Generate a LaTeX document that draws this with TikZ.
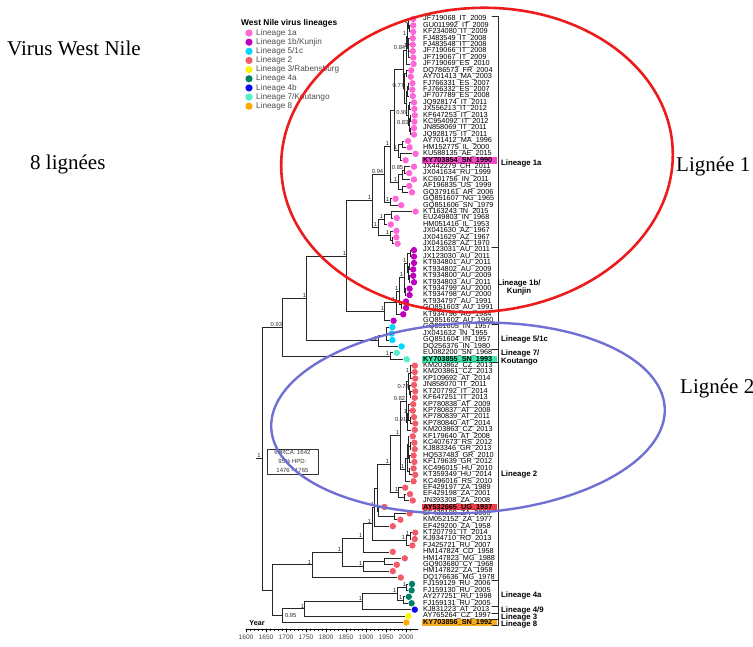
\documentclass[tikz,border=0pt]{standalone}
\usepackage{fontspec}
\setmainfont{Liberation Sans}
\newfontfamily\serifrm{Liberation Serif}
\usetikzlibrary{calc}
\pgfdeclarelayer{bg}
\pgfsetlayers{bg,main}

\definecolor{linA}{RGB}{255,102,214}
\definecolor{linB}{RGB}{190,0,190}
\definecolor{linC}{RGB}{0,214,255}
\definecolor{linII}{RGB}{242,92,106}
\definecolor{linIII}{RGB}{250,245,0}
\definecolor{linIVa}{RGB}{0,128,104}
\definecolor{linIVb}{RGB}{10,10,240}
\definecolor{linVII}{RGB}{80,240,200}
\definecolor{linVIII}{RGB}{255,168,0}
\definecolor{hlA}{RGB}{245,70,200}
\definecolor{hlVII}{RGB}{60,232,170}
\definecolor{hlII}{RGB}{240,60,72}
\definecolor{hlVIII}{RGB}{245,172,30}
\definecolor{ringred}{RGB}{236,28,28}
\definecolor{ringblue}{RGB}{112,112,212}

\tikzset{
  branch/.style={line width=0.7pt,black!85},
  leaflab/.style={anchor=west,inner sep=0pt,font=\fontsize{7.3}{7.3}\selectfont},
  leafbold/.style={leaflab,font=\bfseries\fontsize{7.3}{7.3}\selectfont},
  sup/.style={inner sep=0.6pt,font=\fontsize{5.8}{6}\selectfont,black!85},
  linlab/.style={anchor=west,inner sep=0pt,font=\bfseries\fontsize{7.8}{8.8}\selectfont},
  brkline/.style={line width=0.6pt,black!85},
  bigtxt/.style={anchor=base west,inner sep=0pt,font=\serifrm\fontsize{21}{24}\selectfont},
  legtxt/.style={anchor=west,inner sep=0pt,black!70,font=\fontsize{8.2}{8.2}\selectfont},
  yrlab/.style={inner sep=0pt,black!75,font=\fontsize{6.6}{6.6}\selectfont}
}

% x position of a year, y position of a leaf row
\newcommand\yrx[1]{406+0.4*(#1-2000)}
\newcommand\rowy[1]{19+6.42*(#1-1)}

% row, accession, country, year, colour
\newcommand\leaf[5]{%
  \coordinate (t#1) at ({\yrx{#4}},{\rowy{#1}});
  \fill[#5] ($(t#1)+(3.6,0)$) circle[radius=3.2pt];
  \node[leaflab] (lab#1) at (423,{\rowy{#1}}) {#2\_#3\_#4};
}
% same, highlighted
\newcommand\leafhl[6]{%
  \coordinate (t#1) at ({\yrx{#4}},{\rowy{#1}});
  \fill[#5] ($(t#1)+(3.6,0)$) circle[radius=3.2pt];
  \fill[#6] (421.5,{\rowy{#1}-3.4}) rectangle (497,{\rowy{#1}+3.4});
  \node[leafbold] (lab#1) at (423,{\rowy{#1}}) {#2\_#3\_#4};
}
% name, year, first child, second child
\newcommand\clade[4]{%
  \path let \p1=($(#3)!.5!(#4)$) in coordinate (#1) at ({(\yrx{#2})*1pt},\y1);
  \begin{pgfonlayer}{bg}
    \draw[branch] (#1) |- (#3) (#1) |- (#4);
  \end{pgfonlayer}
}
\newcommand\supp[2]{\node[sup,anchor=south east] (s-#1) at (#1) {#2};}
\newcommand\brk[2]{\draw[brkline] (492,{\rowy{#1}-3.2}) -- (498,{\rowy{#1}-3.2}) -- (498,{\rowy{#2}+3.2}) -- (492,{\rowy{#2}+3.2});}

\begin{document}
\begin{tikzpicture}[x=1pt,y=-1pt,line cap=round,line join=round]
\useasboundingbox (0,0) rectangle (753,646);

% titles
\node[bigtxt] (virus) at (7,55) {Virus West Nile};
\node[bigtxt] (nblin) at (30,169) {8 lignées};
\node[bigtxt] (lig1) at (676,171) {Lignée 1};
\node[bigtxt] (lig2) at (680,393) {Lignée 2};

% legend
\node[anchor=west,inner sep=0pt,font=\bfseries\fontsize{8.4}{8.4}\selectfont] (legtitle) at (241,23) {West Nile virus lineages};
\foreach \c/\t [count=\i] in {linA/{Lineage 1a},linB/{Lineage 1b/Kunjin},linC/{Lineage 5/1c},linII/{Lineage 2},linIII/{Lineage 3/Rabensburg},linIVa/{Lineage 4a},linIVb/{Lineage 4b},linVII/{Lineage 7/Koutango},linVIII/{Lineage 8}} {
  \fill[\c] (249,{33+9.15*(\i-1)}) circle[radius=3.6pt];
  \node[legtxt] (leg\i) at (256,{33+9.15*(\i-1)}) {\t};
}

% leaves
\leaf{1}{JF719068}{IT}{2009}{linA}
\leaf{2}{GU011992}{IT}{2009}{linA}
\leaf{3}{KF234080}{IT}{2009}{linA}
\leaf{4}{FJ483549}{IT}{2008}{linA}
\leaf{5}{FJ483548}{IT}{2008}{linA}
\leaf{6}{JF719066}{IT}{2008}{linA}
\leaf{7}{JF719067}{IT}{2009}{linA}
\leaf{8}{JF719069}{ES}{2010}{linA}
\leaf{9}{DQ786573}{FR}{2004}{linA}
\leaf{10}{AY701413}{MA}{2003}{linA}
\leaf{11}{FJ766331}{ES}{2007}{linA}
\leaf{12}{FJ766332}{ES}{2007}{linA}
\leaf{13}{JF707789}{ES}{2008}{linA}
\leaf{14}{JQ928174}{IT}{2011}{linA}
\leaf{15}{JX556213}{IT}{2012}{linA}
\leaf{16}{KF647253}{IT}{2013}{linA}
\leaf{17}{KC954092}{IT}{2012}{linA}
\leaf{18}{JN858069}{IT}{2011}{linA}
\leaf{19}{JQ928175}{IT}{2011}{linA}
\leaf{20}{AY701412}{MA}{1996}{linA}
\leaf{21}{HM152775}{IL}{2000}{linA}
\leaf{22}{KU588135}{AE}{2015}{linA}
\leafhl{23}{KY703854}{SN}{1990}{linA}{hlA}
\leaf{24}{JX442279}{CH}{2011}{linA}
\leaf{25}{JX041634}{RU}{1999}{linA}
\leaf{26}{KC601756}{IN}{2011}{linA}
\leaf{27}{AF196835}{US}{1999}{linA}
\leaf{28}{GQ379161}{AR}{2006}{linA}
\leaf{29}{GQ851607}{NG}{1965}{linA}
\leaf{30}{GQ851606}{SN}{1979}{linA}
\leaf{31}{KT163243}{IN}{2015}{linA}
\leaf{32}{EU249803}{IN}{1968}{linA}
\leaf{33}{HM051416}{IL}{1953}{linA}
\leaf{34}{JX041630}{AZ}{1967}{linA}
\leaf{35}{JX041629}{AZ}{1967}{linA}
\leaf{36}{JX041628}{AZ}{1970}{linA}
\leaf{37}{JX123031}{AU}{2011}{linB}
\leaf{38}{JX123030}{AU}{2011}{linB}
\leaf{39}{KT934801}{AU}{2011}{linB}
\leaf{40}{KT934802}{AU}{2009}{linB}
\leaf{41}{KT934800}{AU}{2009}{linB}
\leaf{42}{KT934803}{AU}{2011}{linB}
\leaf{43}{KT934799}{AU}{2000}{linB}
\leaf{44}{KT934798}{AU}{2000}{linB}
\leaf{45}{KT934797}{AU}{1991}{linB}
\leaf{46}{GQ851603}{AU}{1991}{linB}
\leaf{47}{KT934796}{AU}{1984}{linB}
\leaf{48}{GQ851602}{AU}{1960}{linB}
\leaf{49}{GQ851605}{IN}{1957}{linC}
\leaf{50}{JX041632}{IN}{1955}{linC}
\leaf{51}{GQ851604}{IN}{1957}{linC}
\leaf{52}{DQ256376}{IN}{1980}{linC}
\leaf{53}{EU082200}{SN}{1968}{linVII}
\leafhl{54}{KY703855}{SN}{1993}{linVII}{hlVII}
\leaf{55}{KM203862}{CZ}{2013}{linII}
\leaf{56}{KM203861}{CZ}{2013}{linII}
\leaf{57}{KP109692}{AT}{2014}{linII}
\leaf{58}{JN858070}{IT}{2011}{linII}
\leaf{59}{KT207792}{IT}{2014}{linII}
\leaf{60}{KF647251}{IT}{2013}{linII}
\leaf{61}{KP780838}{AT}{2009}{linII}
\leaf{62}{KP780837}{AT}{2008}{linII}
\leaf{63}{KP780839}{AT}{2011}{linII}
\leaf{64}{KP780840}{AT}{2014}{linII}
\leaf{65}{KM203863}{CZ}{2013}{linII}
\leaf{66}{KF179640}{AT}{2008}{linII}
\leaf{67}{KC407673}{RS}{2012}{linII}
\leaf{68}{KJ883346}{GR}{2013}{linII}
\leaf{69}{HQ537483}{GR}{2010}{linII}
\leaf{70}{KF179639}{GR}{2012}{linII}
\leaf{71}{KC496015}{HU}{2010}{linII}
\leaf{72}{KT359349}{HU}{2014}{linII}
\leaf{73}{KC496016}{RS}{2010}{linII}
\leaf{74}{EF429197}{ZA}{1989}{linII}
\leaf{75}{EF429198}{ZA}{2001}{linII}
\leaf{76}{JN393308}{ZA}{2008}{linII}
\leafhl{77}{AY532665}{UG}{1937}{linII}{hlII}
\leaf{78}{EF429199}{ZA}{2000}{linII}
\leaf{79}{KM052152}{ZA}{1977}{linII}
\leaf{80}{EF429200}{ZA}{1958}{linII}
\leaf{81}{KT207791}{IT}{2014}{linII}
\leaf{82}{KJ934710}{RO}{2013}{linII}
\leaf{83}{FJ425721}{RU}{2007}{linII}
\leaf{84}{HM147824}{CD}{1958}{linII}
\leaf{85}{HM147823}{MG}{1988}{linII}
\leaf{86}{GQ903680}{CY}{1968}{linII}
\leaf{87}{HM147822}{ZA}{1958}{linII}
\leaf{88}{DQ176636}{MG}{1978}{linII}
\leaf{89}{FJ159129}{RU}{2006}{linIVa}
\leaf{90}{FJ159130}{RU}{2005}{linIVa}
\leaf{91}{AY277251}{RU}{1998}{linIVa}
\leaf{92}{FJ159131}{RU}{2005}{linIVa}
\leaf{93}{KJ831223}{AT}{2013}{linIVb}
\leaf{94}{AY765264}{CZ}{1997}{linIII}
\leafhl{95}{KY703856}{SN}{1992}{linVIII}{hlVIII}

% lineage 1a
\clade{n23}{2008}{t2}{t3}
\clade{n13}{2007}{t1}{n23}
\clade{n45}{2007}{t4}{t5}
\clade{n67}{2007}{t6}{t7}
\clade{n47}{2005}{n45}{n67}
\clade{n17}{2003}{n13}{n47}
\clade{n18}{2000}{n17}{t8}
\clade{n910}{2000}{t9}{t10}
\clade{n1112}{2005}{t11}{t12}
\clade{n1113}{2003}{n1112}{t13}
\clade{n1415}{2009}{t14}{t15}
\clade{n1617}{2010}{t16}{t17}
\clade{n1819}{2010}{t18}{t19}
\clade{n1619}{2008}{n1617}{n1819}
\clade{n1419}{2006}{n1415}{n1619}
\clade{n1119}{2000}{n1113}{n1419}
\clade{n919}{1997}{n910}{n1119}
\clade{n119}{1993}{n18}{n919}
\clade{n2021}{1990}{t20}{t21}
\clade{n2223}{1985}{t22}{t23}
\clade{n2023}{1980}{n2021}{n2223}
\clade{n123}{1970}{n119}{n2023}
\clade{n2425}{1995}{t24}{t25}
\clade{n2426}{1990}{n2425}{t26}
\clade{n2728}{1992}{t27}{t28}
\clade{n2428}{1980}{n2426}{n2728}
\clade{n128}{1960}{n123}{n2428}
\clade{n2930}{1960}{t29}{t30}
\clade{nA}{1945}{n128}{n2930}
\clade{n3132}{1963}{t31}{t32}
\clade{n3133}{1945}{n3132}{t33}
\clade{n3536}{1965}{t35}{t36}
\clade{n3436}{1960}{t34}{n3536}
\clade{nB}{1930}{n3133}{n3436}
\clade{linOneA}{1915}{nA}{nB}
% lineage 1b, 5/1c, 7
\clade{n3738}{2010}{t37}{t38}
\clade{n3940}{2008}{t39}{t40}
\clade{n4142}{2008}{t41}{t42}
\clade{n3942}{2005}{n3940}{n4142}
\clade{n3742}{2003}{n3738}{n3942}
\clade{n4344}{1998}{t43}{t44}
\clade{n3744}{1995}{n3742}{n4344}
\clade{n4546}{1988}{t45}{t46}
\clade{n3746}{1983}{n3744}{n4546}
\clade{n3747}{1975}{n3746}{t47}
\clade{linOneB}{1947}{n3747}{t48}
\clade{n4950}{1952}{t49}{t50}
\clade{n4951}{1950}{n4950}{t51}
\clade{linFive}{1930}{n4951}{t52}
\clade{linOneAB}{1852}{linOneA}{linOneB}
\clade{linOne}{1752}{linOneAB}{linFive}
\clade{linSeven}{1960}{t53}{t54}
\clade{linOneSeven}{1692}{linOne}{linSeven}
% lineage 2
\clade{n5556}{2012}{t55}{t56}
\clade{n5557}{2010}{n5556}{t57}
\clade{n5960}{2011}{t59}{t60}
\clade{n5860}{2009}{t58}{n5960}
\clade{n5560}{2006}{n5557}{n5860}
\clade{n6162}{2007}{t61}{t62}
\clade{n6364}{2010}{t63}{t64}
\clade{n6164}{2005}{n6162}{n6364}
\clade{n6165}{2003}{n6164}{t65}
\clade{n5565}{2000}{n5560}{n6165}
\clade{n6768}{2010}{t67}{t68}
\clade{n6970}{2009}{t69}{t70}
\clade{n6770}{2007}{n6768}{n6970}
\clade{n6670}{2005}{t66}{n6770}
\clade{n7172}{2008}{t71}{t72}
\clade{n6672}{2003}{n6670}{n7172}
\clade{n6673}{1998}{n6672}{t73}
\clade{nM}{1985}{n5565}{n6673}
\clade{n7576}{1997}{t75}{t76}
\clade{n7476}{1982}{t74}{n7576}
\clade{nK}{1960}{nM}{n7476}
\clade{n7879}{1970}{t78}{t79}
\clade{n7779}{1932}{t77}{n7879}
\clade{nJ}{1928}{nK}{n7779}
\clade{nH}{1922}{nJ}{t80}
\clade{n8182}{2010}{t81}{t82}
\clade{n8183}{2000}{n8182}{t83}
\clade{nG}{1915}{nH}{n8183}
\clade{nAf}{1893}{nG}{t84}
\clade{n8586}{1945}{t85}{t86}
\clade{nMg}{1893}{n8586}{t87}
\clade{nTwoIn}{1840}{nAf}{nMg}
\clade{linTwo}{1765}{nTwoIn}{t88}
% lineages 4, 3, 8
\clade{n8990}{2002}{t89}{t90}
\clade{n9192}{1993}{t91}{t92}
\clade{linFourA}{1978}{n8990}{n9192}
\clade{linFour}{1892}{linFourA}{t93}
\clade{linThreeFour}{1747}{linFour}{t94}
\clade{linEight}{1692}{linThreeFour}{t95}
\clade{nLow}{1667}{linTwo}{linEight}
\clade{root}{1640}{linOneSeven}{nLow}
\coordinate (rootstem) at ($(root)+(-6,0)$);
\begin{pgfonlayer}{bg}
  \draw[branch] (rootstem) -- (root);
\end{pgfonlayer}
\node[sup,anchor=south] (s-root) at ($(rootstem)!.5!(root)$) {1};

% supports
\supp{n13}{1}
\supp{n47}{1}
\supp{n17}{1}
\supp{n18}{0.84}
\supp{n919}{0.77}
\supp{n1113}{1}
\supp{n1419}{0.99}
\supp{n1619}{0.83}
\supp{n2023}{1}
\supp{n2425}{0.85}
\supp{n2428}{1}
\supp{n128}{1}
\supp{n2930}{1}
\supp{nA}{0.94}
\supp{n3133}{1}
\supp{n3436}{1}
\supp{nB}{1}
\supp{linOneA}{1}
\supp{n3742}{1}
\supp{n3744}{1}
\supp{n3746}{1}
\supp{n3747}{1}
\supp{linOneB}{1}
\supp{linFive}{1}
\supp{linOneAB}{1}
\supp{linOne}{1}
\supp{linSeven}{1}
\supp{linOneSeven}{0.93}
\supp{n5557}{1}
\supp{n5565}{0.82}
\supp{n5860}{0.78}
\supp{n6165}{0.91}
\supp{n6164}{1}
\supp{n6673}{1}
\supp{nM}{1}
\supp{n7476}{1}
\supp{nK}{1}
\supp{nH}{1}
\supp{nG}{1}
\supp{n8182}{1}
\supp{n8183}{1}
\supp{nAf}{1}
\supp{nMg}{1}
\supp{nTwoIn}{1}
\supp{linTwo}{1}
\supp{n8990}{1}
\supp{n9192}{1}
\supp{linFourA}{1}
\supp{linFour}{1}
\supp{linThreeFour}{1}
\node[sup,anchor=west] (s-linEight) at ($(linEight)+(1.5,0)$) {0.95};

% tMRCA box
\node[draw=black!60,line width=0.5pt,align=center,inner sep=1.5pt,minimum width=51pt,font=\fontsize{6}{9}\selectfont,black!80] (tmrca) at (292.5,461.5) {tMRCA: 1642\\95\% HPD:\\1476 - 1765};

% time axis
\draw[line width=0.6pt] (246,629) -- (418,629);
\foreach \yr in {1600,1610,...,2010} \draw[line width=0.4pt] ({\yrx{\yr}},629) -- ++(0,1.6);
\foreach \yr in {1600,1650,...,2000} {
  \draw[line width=0.6pt] ({\yrx{\yr}},629) -- ++(0,3);
  \node[yrlab] (yr\yr) at ({\yrx{\yr}},637.5) {\yr};
}
\node[inner sep=0pt,font=\bfseries\fontsize{7.2}{7.2}\selectfont] (yearlab) at (257,623) {Year};

% lineage brackets
\brk{1}{36}
\brk{37}{48}
\brk{49}{52}
\brk{53}{54}
\brk{55}{88}
\brk{89}{92}
\brk{93}{93}
\brk{94}{94}
\brk{95}{95}
\node[linlab] (g1a) at (501,163) {Lineage 1a};
\node[linlab,align=center,anchor=center] (g1b) at (519,287.5) {Lineage 1b/\\Kunjin};
\node[linlab] (g5) at (501,339) {Lineage 5/1c};
\node[linlab,align=left] (g7) at (501,357.5) {Lineage 7/\\Koutango};
\node[linlab] (g2) at (501,474) {Lineage 2};
\node[linlab] (g4a) at (501,595) {Lineage 4a};
\node[linlab] (g49) at (501,610) {Lineage 4/9};
\node[linlab] (g3) at (501,617) {Lineage 3};
\node[linlab] (g8) at (501,624) {Lineage 8};

% rings
\draw[ringred,line width=2.6pt,rotate around={4:(477,160)}] (477,160) ellipse[x radius=196pt,y radius=152pt];
\draw[ringblue,line width=2.4pt,rotate around={3:(468,418)}] (468,418) ellipse[x radius=197pt,y radius=95pt];
\end{tikzpicture}
\end{document}
